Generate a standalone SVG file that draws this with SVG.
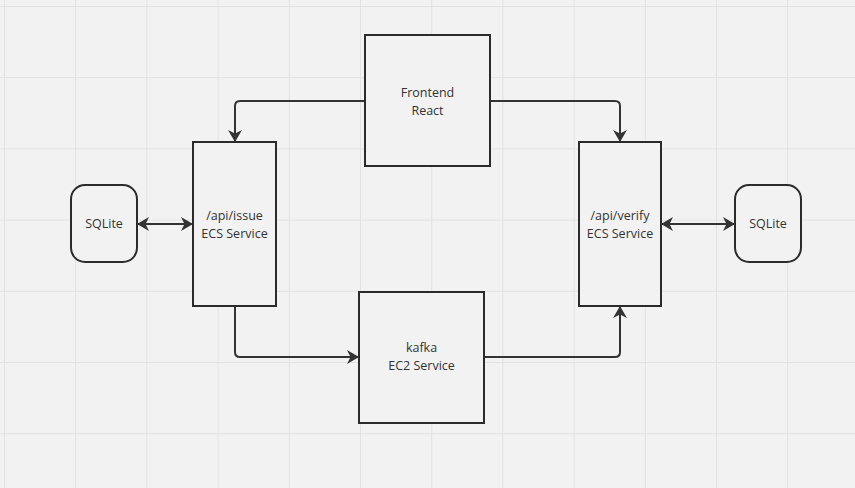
<svg xmlns="http://www.w3.org/2000/svg" width="855" height="488" viewBox="0 0 855 488">
<defs>
<pattern id="grid" x="4" y="6" width="71.2" height="71.2" patternUnits="userSpaceOnUse">
<path d="M0,0 H71.2 M0,0 V71.2" stroke="#e2e2e2" stroke-width="2" fill="none"/>
</pattern>
<marker id="arr" viewBox="0 0 12 14" refX="11" refY="7" markerWidth="12" markerHeight="14" markerUnits="userSpaceOnUse" orient="auto-start-reverse">
<path d="M0,0 L12,7 L0,14 L3.5,7 z" fill="#333"/>
</marker>
<style>
.box{fill:#f2f2f2;stroke:#2b2b2b;stroke-width:2}
.lbl{font-family:"Open Sans","Liberation Sans",sans-serif;font-size:12.5px;fill:#333;text-anchor:middle}
.con{fill:none;stroke:#333;stroke-width:2}
</style>
</defs>
<rect width="855" height="488" fill="#f2f2f2"/>
<rect width="855" height="488" fill="url(#grid)"/>
<g id="connectors">
<path class="con" d="M365,101 H240 Q235,101 235,106 V141" marker-end="url(#arr)"/>
<path class="con" d="M490,101 H615 Q620,101 620,106 V141" marker-end="url(#arr)"/>
<path class="con" d="M138,224 H192" marker-start="url(#arr)" marker-end="url(#arr)"/>
<path class="con" d="M662,224 H734" marker-start="url(#arr)" marker-end="url(#arr)"/>
<path class="con" d="M235,307 V352 Q235,357 240,357 H358" marker-end="url(#arr)"/>
<path class="con" d="M485,357 H615 Q620,357 620,352 V307" marker-end="url(#arr)"/>
</g>
<g id="frontend">
<rect class="box" x="365" y="35" width="125" height="131"/>
<text class="lbl" x="427.5" y="97">Frontend</text>
<text class="lbl" x="427.5" y="115">React</text>
</g>
<g id="api-issue">
<rect class="box" x="193" y="142" width="83" height="164"/>
<text class="lbl" x="234.5" y="220">/api/issue</text>
<text class="lbl" x="234.5" y="238">ECS Service</text>
</g>
<g id="sqlite-left">
<rect class="box" x="71" y="185" width="66" height="77" rx="14"/>
<text class="lbl" x="104" y="228">SQLite</text>
</g>
<g id="api-verify">
<rect class="box" x="579" y="142" width="82" height="164"/>
<text class="lbl" x="620" y="220">/api/verify</text>
<text class="lbl" x="620" y="238">ECS Service</text>
</g>
<g id="sqlite-right">
<rect class="box" x="735" y="185" width="66" height="77" rx="14"/>
<text class="lbl" x="768" y="228">SQLite</text>
</g>
<g id="kafka">
<rect class="box" x="359" y="292" width="125" height="131"/>
<text class="lbl" x="421.5" y="352">kafka</text>
<text class="lbl" x="421.5" y="370">EC2 Service</text>
</g>
</svg>
